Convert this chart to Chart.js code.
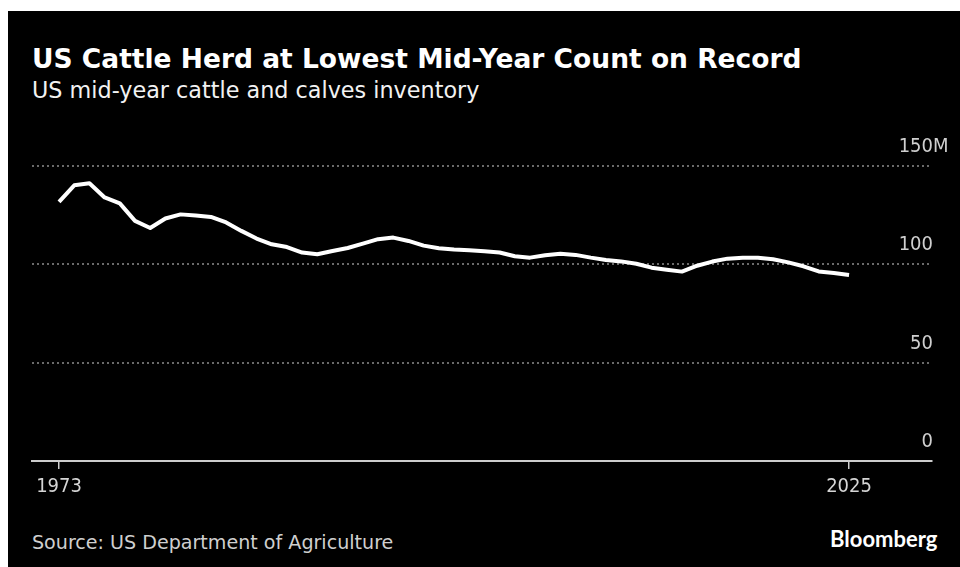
<!DOCTYPE html>
<html>
<head>
<meta charset="utf-8">
<script src="https://cdn.jsdelivr.net/npm/chart.js@4/dist/chart.umd.min.js"></script>
<style>
  html, body { margin: 0; padding: 0; background: #fff; width: 960px; height: 567px; overflow: hidden; }
  #panel { position: absolute; left: 8px; top: 11px; width: 952px; height: 556px; background: #000; }
  .txt { position: absolute; white-space: nowrap; font-family: "DejaVu Sans", sans-serif; line-height: normal; }
  #title { left: 32px; top: 42.5px; font-size: 26.5px; font-weight: bold; color: #fff; }
  #subtitle { left: 32px; top: 76.5px; font-size: 22.3px; color: #f2f2f2; }
  #source { left: 32px; top: 530.5px; font-size: 19.1px; color: #cfcfcf; }
  #brand { left: 830px; top: 525px; font-size: 22px; font-weight: bold; color: #fff; font-family: Lato, "Open Sans", sans-serif; }
  #wrap { position: absolute; left: 0; top: 0; width: 960px; height: 567px; }
</style>
</head>
<body>
<div id="panel"></div>
<div class="txt" id="title">US Cattle Herd at Lowest Mid-Year Count on Record</div>
<div class="txt" id="subtitle">US mid-year cattle and calves inventory</div>
<div class="txt" id="source">Source: US Department of Agriculture</div>
<div class="txt" id="brand">Bloomberg</div>
<div id="wrap"><canvas id="chart"></canvas></div>
<script>
// Mid-year (July 1) cattle and calves inventory, millions of head
const years = [];
for (let y = 1973; y <= 2025; y++) years.push(y);

const inventory = [
    131.8, 140.2, 141.2, 134.0, 131.0, 122.1, 118.5, 123.3, 125.4, 124.8,
    124.1, 121.3, 117.0, 113.1, 110.2, 108.8, 106.0, 105.1, 106.8, 108.3,
    110.5, 112.8, 113.6, 111.9, 109.5, 108.2, 107.5, 107.1, 106.6, 106.0,
    104.1, 103.4, 104.6, 105.4, 104.8, 103.4, 102.2, 101.5, 100.3, 98.3,
    97.3, 96.3, 99.3, 101.4, 102.9, 103.4, 103.4, 102.6, 101.0, 99.0,
    96.4, 95.6, 94.6
];

const xTicks = [1973, 2025];
const yTicks = [0, 50, 100, 150];
const yTickLabels = ['0', '50', '100', '150'];

const axisFont = '"DejaVu Sans Condensed", "DejaVu Sans", sans-serif';

// Draws the right-hand value labels above each gridline
const yLabelPlugin = {
    id: 'yLabels',
    afterDraw(chart) {
        const ctx = chart.ctx;
        const yScale = chart.scales.y;
        ctx.save();
        ctx.font = '20px ' + axisFont;
        ctx.fillStyle = '#cfcfcf';
        ctx.textBaseline = 'alphabetic';
        yTicks.forEach((v, i) => {
            const py = yScale.getPixelForValue(v) - 14;
            ctx.textAlign = 'right';
            ctx.fillText(yTickLabels[i], 933, py);
            if (v === 150) {
                ctx.textAlign = 'left';
                ctx.fillText('M', 933, py);
            }
        });
        ctx.restore();
    }
};

const ctx = document.getElementById('chart').getContext('2d');
new Chart(ctx, {
    type: 'line',
    data: {
        datasets: [{
            data: years.map((y, i) => ({ x: y, y: inventory[i] })),
            borderColor: '#ffffff',
            borderWidth: 4,
            pointRadius: 0,
            tension: 0,
            borderJoinStyle: 'round',
            borderCapStyle: 'butt'
        }]
    },
    options: {
        responsive: true,
        maintainAspectRatio: false,
        animation: false,
        layout: { padding: { left: 32, right: 28, top: 166, bottom: 62 } },
        plugins: {
            legend: { display: false },
            tooltip: { enabled: false }
        },
        scales: {
            x: {
                type: 'linear',
                min: 1971.22,
                max: 2030.46,
                afterBuildTicks: (scale) => { scale.ticks = xTicks.map(v => ({ value: v })); },
                grid: { drawOnChartArea: false, tickLength: 8, tickColor: '#cccccc', lineWidth: 1.5 },
                border: { display: true, color: '#cccccc', width: 2 },
                ticks: {
                    autoSkip: false,
                    maxRotation: 0,
                    color: '#d5d5d5',
                    padding: 6,
                    font: { family: axisFont, size: 20 },
                    callback: (v) => String(v)
                }
            },
            y: {
                position: 'right',
                min: 0,
                max: 150,
                afterBuildTicks: (scale) => { scale.ticks = yTicks.map(v => ({ value: v })); },
                grid: {
                    color: (c) => c.tick && c.tick.value === 0 ? 'rgba(0,0,0,0)' : '#6a6a6a',
                    lineWidth: 2,
                    drawTicks: false
                },
                border: { display: false, dash: [2, 3] },
                ticks: { display: false }
            }
        }
    },
    plugins: [yLabelPlugin]
});
</script>
</body>
</html>
